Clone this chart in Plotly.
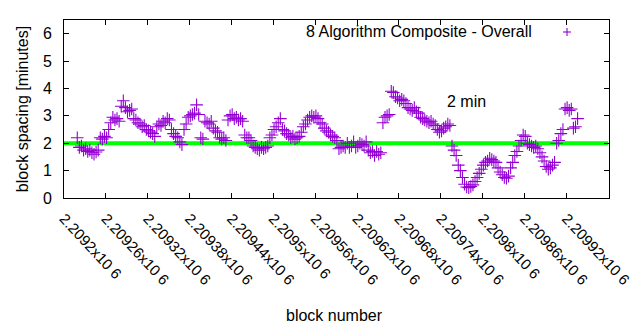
import plotly.graph_objects as go

# block numbers (consecutive blocks, sampled every 3rd)
first_block = 2209219
block_step = 3
spacing_minutes = [
    2.2, 1.85, 1.9, 1.75, 1.8, 1.7, 1.75, 1.65, 1.6, 1.68, 1.75,
    2.2, 2.15, 2.25, 2.2, 2.5, 2.75, 2.95, 2.85, 2.9, 2.8,
    3.35, 3.55, 3.3, 3.15, 3.2, 3.25, 2.9, 2.85, 2.75,
    2.7, 2.6, 2.65, 2.5, 2.45, 2.4, 2.35, 2.25,
    2.6, 2.7, 2.65, 2.8, 2.75, 2.9, 2.85,
    2.5, 2.35, 2.25, 2.2, 2.05, 1.95, 2.5, 2.7, 2.95,
    3.0, 3.05, 3.1, 3.4, 3.05, 2.2, 2.15,
    2.8, 2.75, 2.7, 2.8, 2.55, 2.45, 2.4,
    2.2, 2.15, 2.2, 2.1,
    2.85, 3.0, 3.05, 2.9, 2.95, 2.85, 2.9, 2.8,
    2.3, 2.2, 2.2, 2.1,
    1.9, 1.85, 1.8, 1.75, 1.85, 1.8, 1.85, 1.9,
    2.2, 2.3, 2.5, 2.6, 2.75, 2.9,
    2.5, 2.45, 2.35,
    2.3, 2.2, 2.25, 2.15, 2.2, 2.25,
    2.4, 2.6, 2.7, 2.85,
    2.95, 3.0, 2.95, 3.0, 2.9,
    2.75, 2.7, 2.55, 2.45, 2.4,
    2.3, 2.25, 2.2, 2.1, 1.8,
    1.85, 1.9, 1.85, 2.0, 1.85, 1.9, 2.05, 1.85, 1.9, 2.0, 1.95, 1.9, 2.05,
    1.75, 1.65, 1.7, 1.55, 1.7, 1.6, 1.65,
    2.75, 2.95, 3.0, 3.05,
    3.9, 3.85,
    3.7, 3.65, 3.55, 3.6, 3.55, 3.45,
    3.3, 3.25, 3.2, 3.3, 3.15, 3.1,
    2.95, 2.9, 2.85, 2.8, 2.75, 2.8, 2.7, 2.65,
    2.5, 2.4, 2.45,
    2.55, 2.6, 2.7, 2.65,
    1.9, 1.75, 1.55,
    1.2, 1.0,
    0.75, 0.5, 0.4, 0.38, 0.42, 0.48,
    0.6, 0.75, 0.9, 1.05, 1.2, 1.3, 1.35,
    1.45, 1.4, 1.35, 1.3,
    1.1, 0.95, 0.85, 0.75, 0.72, 0.8,
    1.1, 1.3, 1.55, 1.7, 1.9,
    2.1, 2.3, 2.25,
    2.0, 1.95, 1.9, 1.85, 1.9, 1.8,
    1.65, 1.5, 1.35, 1.15, 1.05, 1.1,
    1.2, 1.3,
    2.0, 2.1, 2.35, 2.5,
    3.25, 3.3, 3.2, 3.25,
    2.55, 2.6, 2.9,
]
blocks = [first_block + block_step * i for i in range(len(spacing_minutes))]

ref_x = [2209200, 2209980]
ref_y = [2, 2]

tick_vals = [2209200 + 60 * k for k in range(14)]
tick_text = ["2.2092x10 6", "2.20926x10 6", "2.20932x10 6", "2.20938x10 6",
             "2.20944x10 6", "2.2095x10 6", "2.20956x10 6", "2.20962x10 6",
             "2.20968x10 6", "2.20974x10 6", "2.2098x10 6", "2.20986x10 6",
             "2.20992x10 6", "2.20998x10 6"]

PURPLE = "#9400D3"
FONT = "Liberation Sans, Arial, sans-serif"

fig = go.Figure()
fig.add_trace(go.Scatter(x=ref_x, y=ref_y, mode="lines",
                         line=dict(color="#00FF00", width=4), showlegend=False,
                         hoverinfo="skip"))
fig.add_trace(go.Scatter(x=blocks, y=spacing_minutes, mode="markers",
                         marker=dict(symbol="cross-thin-open", size=9, color=PURPLE,
                                     line=dict(color=PURPLE, width=1.1)),
                         showlegend=False))

L, R, T, B = 64, 31, 20, 132
W, H = 640, 330
pw, ph = W - L - R, H - T - B

def px(xp):
    return (xp - L) / pw

def py(yp):
    return 1 - (yp - T) / ph

# legend key sample (cross)
cx, cy, hs = 567, 32, 4
fig.add_shape(type="line", xref="paper", yref="paper",
              x0=px(cx - hs), x1=px(cx + hs), y0=py(cy), y1=py(cy),
              line=dict(color=PURPLE, width=1.1))
fig.add_shape(type="line", xref="paper", yref="paper",
              x0=px(cx), x1=px(cx), y0=py(cy - hs), y1=py(cy + hs),
              line=dict(color=PURPLE, width=1.1))

fig.add_annotation(xref="paper", yref="paper", x=px(534), y=py(32),
                   xanchor="right", yanchor="middle", showarrow=False,
                   text="8 Algorithm Composite - Overall",
                   font=dict(family=FONT, size=16, color="#000"))
fig.add_annotation(xref="paper", yref="paper", x=px(466), y=py(101),
                   xanchor="center", yanchor="middle", showarrow=False,
                   text="2 min", font=dict(family=FONT, size=16, color="#000"))
# x-axis title placed precisely
fig.add_annotation(xref="paper", yref="paper", x=px(334), y=py(315),
                   xanchor="center", yanchor="middle", showarrow=False,
                   text="block number", font=dict(family=FONT, size=16, color="#000"))

fig.update_layout(
    width=W, height=H,
    margin=dict(l=L, r=R, t=T, b=B),
    paper_bgcolor="white", plot_bgcolor="white",
    font=dict(family=FONT, size=16, color="#000"),
    xaxis=dict(range=[2209200, 2209981], tickvals=tick_vals, ticktext=tick_text,
               tickangle=47, ticks="inside", ticklen=5, tickcolor="#000",
               showline=True, linecolor="#000", linewidth=1, mirror="ticks",
               showgrid=False, zeroline=False, ticklabelstandoff=5,
               automargin=False,
               tickfont=dict(family=FONT, size=15)),
    yaxis=dict(range=[0, 6.5], tickvals=[0, 1, 2, 3, 4, 5, 6],
               ticks="inside", ticklen=5, tickcolor="#000",
               showline=True, linecolor="#000", linewidth=1, mirror="ticks",
               showgrid=False, zeroline=False, ticklabelstandoff=8,
               automargin=False,
               tickfont=dict(family=FONT, size=16),
               title=dict(text="block spacing [minutes]", standoff=10,
                          font=dict(family=FONT, size=16))),
)

fig.write_html("out.html")
